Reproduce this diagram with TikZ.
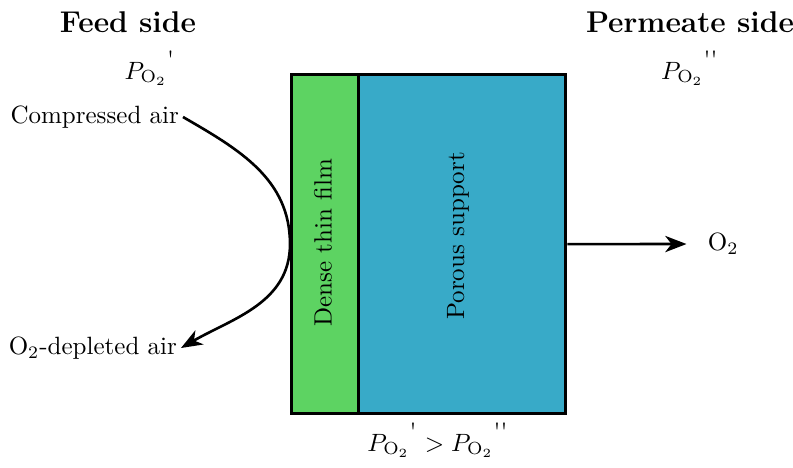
\documentclass[tikz,border=0pt]{standalone}
\usetikzlibrary{positioning,arrows.meta}
\definecolor{filmgreen}{RGB}{93,211,98}
\definecolor{supportblue}{RGB}{56,170,200}
\newcommand{\pox}{P_{\mathrm{O_2}}}
\newcommand{\tick}{^{\textnormal{\textquotesingle}}}
\newcommand{\ticks}{^{\textnormal{\textquotesingle\textquotesingle}}}
\begin{document}
\begin{tikzpicture}[x=0.4pt, y=-0.4pt, line width=1.2pt,
  layer/.style={draw=black, line width=1.3pt, minimum height=135.6pt, inner sep=0pt},
  flow/.style={-{Stealth[length=8.5pt, width=6.5pt, inset=2.5pt]}, line width=1.05pt}]
\useasboundingbox (0,0) rectangle (793,467);

% Membrane
\node[layer, fill=filmgreen, minimum width=26.8pt, anchor=north west] (film) at (290,73) {};
\node[layer, fill=supportblue, minimum width=82.8pt, anchor=north west] (support) at (357,73) {};
\node[rotate=90] at (323,243) {Dense thin film};
\node[rotate=90] at (458,236) {Porous support};

% Titres
\node[font=\large\bfseries] (feed) at (128,22) {Feed side};
\node[font=\large\bfseries] (perm) at (690,22) {Permeate side};
\node (pfeed) at (150,68) {${\pox}\tick$};
\node (pperm) at (690,68) {${\pox}\ticks$};
\node (pcomp) at (438,440) {${\pox}\tick > {\pox}\ticks$};

% Alimentation
\node[anchor=east, inner sep=1pt] (air) at (183,117) {Compressed air};
\node[anchor=east, inner sep=1pt] (dep) at (181,348) {O$_2$-depleted air};
\draw[flow] (air.east) to[out=-30, in=90] (film.west) to[out=-90, in=30] (dep.east);

% Perméat
\node[anchor=west] (o2) at (698,244) {O$_2$};
\draw[flow, shorten >=4.6pt] (support.east) -- (o2.west);
\end{tikzpicture}
\end{document}
